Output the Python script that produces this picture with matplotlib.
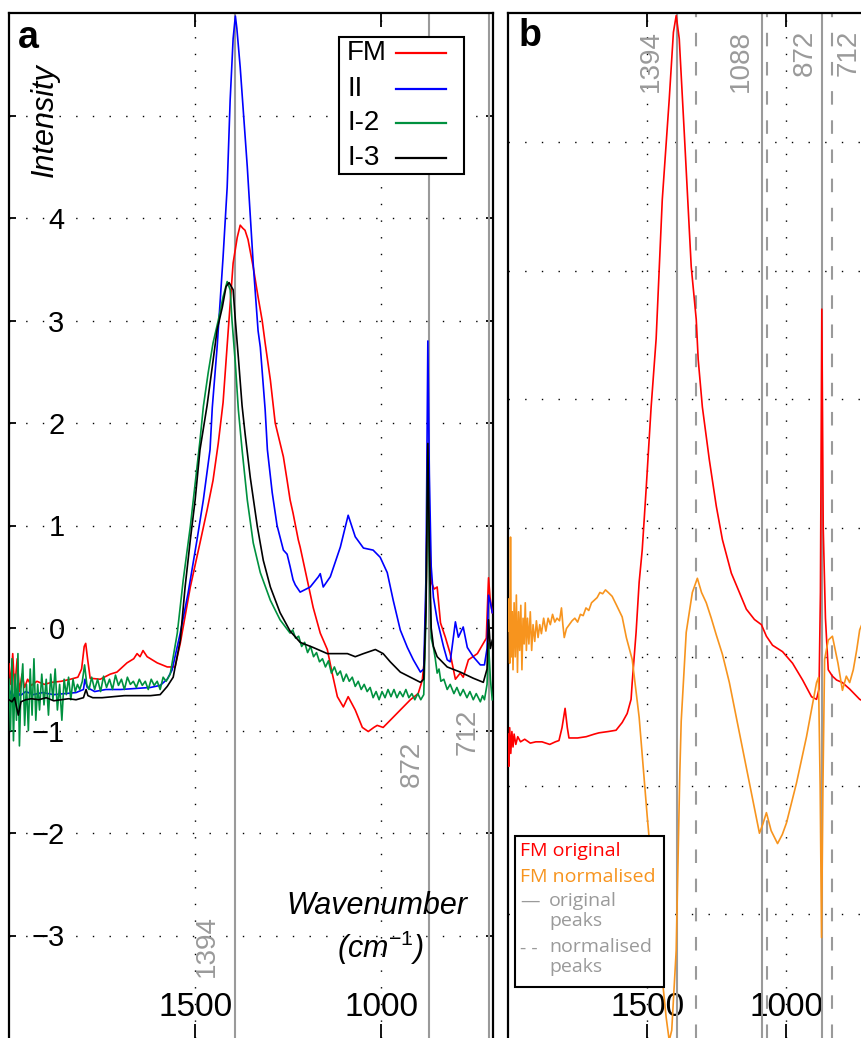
import matplotlib
matplotlib.use('Agg')
import matplotlib.pyplot as plt
from matplotlib.patches import Rectangle
from matplotlib.lines import Line2D

plt.rcParams['font.family'] = 'Liberation Sans'
plt.rcParams['mathtext.fontset'] = 'custom'
plt.rcParams['mathtext.it'] = 'Liberation Sans:italic'
plt.rcParams['mathtext.rm'] = 'Liberation Sans'

GRAY = '#9a9a9a'
GREEN = '#00913f'
ORANGE = '#f7941e'

# ── Panel a spectra: (wavenumber cm-1, intensity) ─────────────────────────────
fm_a = [(2000, -0.35), (1995, -0.55), (1990, -0.25), (1985, -0.6), (1978, -0.3), (1972, -0.62),
        (1965, -0.45), (1958, -0.58), (1950, -0.5), (1940, -0.56), (1925, -0.52), (1905, -0.55),
        (1885, -0.53), (1860, -0.52), (1835, -0.5), (1815, -0.48), (1805, -0.4), (1798, -0.18),
        (1794, -0.15), (1789, -0.3), (1782, -0.49), (1755, -0.5), (1728, -0.45), (1710, -0.43),
        (1683, -0.34), (1665, -0.3), (1656, -0.25), (1648, -0.28), (1640, -0.22), (1629, -0.28),
        (1602, -0.34), (1575, -0.38), (1554, -0.38), (1540, -0.15), (1513, 0.4), (1487, 0.83),
        (1468, 1.15), (1452, 1.44), (1438, 1.8), (1425, 2.2), (1411, 2.91), (1398, 3.56),
        (1387, 3.81), (1379, 3.93), (1372, 3.9), (1366, 3.88), (1358, 3.79), (1344, 3.52),
        (1331, 3.23), (1320, 3.0), (1312, 2.78), (1298, 2.42), (1285, 2.0), (1263, 1.67),
        (1253, 1.44), (1245, 1.25), (1237, 1.12), (1223, 0.86), (1218, 0.79), (1199, 0.47),
        (1183, 0.2), (1164, -0.05), (1145, -0.21), (1132, -0.44), (1118, -0.67), (1102, -0.77),
        (1089, -0.67), (1070, -0.8), (1051, -0.97), (1035, -1.01), (1020, -0.97), (1011, -0.95),
        (995, -0.97), (976, -0.9), (949, -0.8), (922, -0.7), (901, -0.64), (890, -0.51),
        (884, -0.3), (879, 0.5), (875, 1.8), (871, 0.9), (866, 0.45), (858, 0.38), (850, 0.4),
        (841, 0.05), (828, -0.09), (815, -0.25), (801, -0.5), (788, -0.44), (780, -0.48),
        (766, -0.31), (742, -0.25), (726, -0.15), (718, -0.1), (714, 0.3), (712, 0.49),
        (708, 0.3), (702, 0.15)]

ii_a = [(2000, -0.6), (1990, -0.68), (1980, -0.6), (1970, -0.66), (1955, -0.62), (1935, -0.65),
        (1910, -0.63), (1880, -0.65), (1850, -0.64), (1820, -0.63), (1800, -0.6), (1796, -0.5),
        (1790, -0.58), (1770, -0.62), (1740, -0.6), (1700, -0.6), (1660, -0.59), (1620, -0.58),
        (1594, -0.56), (1575, -0.5), (1562, -0.41), (1540, -0.05), (1519, 0.34), (1495, 0.86),
        (1478, 1.25), (1460, 1.74), (1454, 2.15), (1441, 2.74), (1425, 3.62), (1414, 4.3),
        (1406, 5.15), (1398, 5.75), (1392, 5.97), (1388, 5.85), (1379, 5.47), (1360, 4.5),
        (1344, 3.55), (1331, 2.9), (1325, 2.74), (1312, 2.13), (1306, 1.74), (1293, 1.32),
        (1280, 1.0), (1263, 0.76), (1253, 0.72), (1245, 0.6), (1237, 0.47), (1231, 0.42),
        (1218, 0.35), (1191, 0.4), (1169, 0.5), (1164, 0.53), (1156, 0.4), (1137, 0.5),
        (1110, 0.79), (1089, 1.1), (1070, 0.89), (1048, 0.78), (1022, 0.76), (1003, 0.69),
        (984, 0.54), (968, 0.27), (949, -0.02), (930, -0.19), (914, -0.31), (895, -0.43),
        (886, -0.4), (880, 0.5), (875, 2.8), (871, 1.5), (866, 0.6), (860, 0.3), (850, 0.08),
        (833, -0.18), (823, -0.31), (815, -0.33), (801, 0.06), (793, -0.09), (780, 0.01),
        (769, -0.19), (753, -0.28), (734, -0.36), (723, -0.36), (716, -0.2), (712, 0.32),
        (707, 0.25), (702, 0.15)]

i2_a = [(2000, -0.5), (1996, -1.0), (1992, -0.3), (1988, -1.1), (1984, -0.45), (1980, -0.9),
        (1976, -0.25), (1972, -1.15), (1968, -0.6), (1963, -0.35), (1958, -0.95), (1953, -0.55),
        (1948, -1.0), (1943, -0.4), (1938, -0.85), (1933, -0.3), (1928, -0.9), (1923, -0.55),
        (1918, -0.8), (1912, -0.45), (1906, -0.75), (1900, -0.5), (1894, -0.85), (1888, -0.45),
        (1882, -0.7), (1876, -0.4), (1870, -0.8), (1864, -0.55), (1858, -0.9), (1852, -0.5),
        (1846, -0.65), (1840, -0.48), (1834, -0.7), (1828, -0.5), (1822, -0.62), (1816, -0.55),
        (1810, -0.6), (1803, -0.52), (1797, -0.36), (1791, -0.55), (1785, -0.6), (1778, -0.48),
        (1770, -0.6), (1762, -0.5), (1754, -0.62), (1746, -0.47), (1738, -0.58), (1730, -0.5),
        (1722, -0.6), (1714, -0.46), (1706, -0.56), (1698, -0.5), (1690, -0.6), (1682, -0.48),
        (1674, -0.55), (1666, -0.52), (1658, -0.58), (1650, -0.5), (1642, -0.56), (1634, -0.52),
        (1626, -0.6), (1618, -0.5), (1610, -0.56), (1602, -0.52), (1594, -0.6), (1586, -0.48),
        (1578, -0.52), (1567, -0.45), (1548, -0.05), (1532, 0.47), (1513, 0.99), (1500, 1.41),
        (1487, 1.83), (1478, 2.16), (1465, 2.49), (1452, 2.78), (1438, 3.0), (1425, 3.23),
        (1414, 3.38), (1406, 3.3), (1401, 3.0), (1392, 2.58), (1384, 2.13), (1374, 1.74),
        (1360, 1.25), (1344, 0.83), (1325, 0.54), (1298, 0.27), (1272, 0.08), (1245, -0.05),
        (1238, -0.02), (1230, -0.1), (1222, -0.08), (1214, -0.18), (1206, -0.14), (1198, -0.24),
        (1190, -0.18), (1182, -0.28), (1174, -0.24), (1166, -0.33), (1158, -0.3), (1150, -0.38),
        (1142, -0.32), (1134, -0.44), (1126, -0.38), (1118, -0.46), (1110, -0.42), (1102, -0.52),
        (1094, -0.45), (1086, -0.52), (1078, -0.48), (1070, -0.57), (1062, -0.52), (1054, -0.6),
        (1046, -0.55), (1038, -0.62), (1030, -0.58), (1022, -0.68), (1014, -0.62), (1006, -0.7),
        (998, -0.62), (990, -0.68), (982, -0.6), (974, -0.67), (966, -0.6), (958, -0.68),
        (950, -0.62), (942, -0.67), (934, -0.6), (926, -0.68), (918, -0.64), (910, -0.7),
        (902, -0.64), (894, -0.7), (886, -0.65), (880, 0.1), (875, 1.7), (871, 0.6), (866, -0.1),
        (860, -0.19), (855, -0.3), (850, -0.44), (845, -0.4), (840, -0.52), (832, -0.5),
        (823, -0.6), (815, -0.55), (805, -0.64), (797, -0.58), (788, -0.66), (780, -0.6),
        (770, -0.68), (762, -0.62), (753, -0.7), (745, -0.64), (734, -0.72), (728, -0.66),
        (723, -0.7), (716, -0.55), (712, -0.15), (707, -0.5), (702, -0.7)]

i3_a = [(2000, -0.7), (1992, -0.72), (1985, -0.68), (1975, -0.85), (1968, -0.72), (1955, -0.7),
        (1940, -0.69), (1920, -0.7), (1900, -0.68), (1880, -0.71), (1860, -0.7), (1840, -0.69),
        (1820, -0.7), (1800, -0.68), (1793, -0.6), (1788, -0.66), (1775, -0.68), (1750, -0.68),
        (1720, -0.67), (1690, -0.66), (1650, -0.66), (1620, -0.66), (1594, -0.65), (1575, -0.57),
        (1559, -0.48), (1540, -0.12), (1527, 0.4), (1513, 0.86), (1500, 1.25), (1487, 1.74),
        (1468, 2.17), (1454, 2.55), (1441, 2.91), (1427, 3.13), (1417, 3.33), (1409, 3.37),
        (1398, 3.3), (1392, 3.0), (1384, 2.64), (1374, 2.17), (1366, 1.9), (1352, 1.47),
        (1333, 0.99), (1317, 0.66), (1298, 0.4), (1272, 0.15), (1245, -0.03), (1218, -0.14),
        (1183, -0.19), (1145, -0.25), (1091, -0.25), (1070, -0.28), (1048, -0.25), (1016, -0.21),
        (995, -0.25), (976, -0.33), (949, -0.43), (922, -0.48), (895, -0.53), (886, -0.5),
        (880, 0.2), (875, 1.8), (871, 0.8), (866, 0.0), (860, -0.18), (850, -0.28), (823, -0.38),
        (788, -0.43), (753, -0.49), (726, -0.53), (716, -0.4), (712, 0.08), (707, -0.2),
        (702, -0.12)]

# ── Panel b: FM original vs normalised ───────────────────────────────────────
fm_orig_b = [(2000, -0.6), (1997, -0.85), (1994, -0.55), (1990, -0.75), (1986, -0.58), (1982, -0.7),
             (1978, -0.6), (1972, -0.68), (1965, -0.62), (1955, -0.66), (1940, -0.64), (1920, -0.67),
             (1900, -0.66), (1878, -0.66), (1850, -0.68), (1830, -0.66), (1817, -0.65), (1806, -0.55),
             (1795, -0.4), (1787, -0.55), (1781, -0.63), (1750, -0.63), (1719, -0.62), (1690, -0.6),
             (1673, -0.59), (1640, -0.58), (1612, -0.57), (1590, -0.51), (1572, -0.44), (1558, -0.33),
             (1554, -0.2), (1540, 0.19), (1529, 0.58), (1518, 0.83), (1504, 1.3), (1486, 1.94),
             (1468, 2.47), (1446, 3.55), (1421, 4.33), (1406, 4.85), (1396, 4.98), (1385, 4.8),
             (1367, 4.07), (1342, 3.03), (1324, 2.62), (1317, 2.31), (1302, 1.94), (1277, 1.53),
             (1252, 1.17), (1230, 0.91), (1198, 0.65), (1169, 0.5), (1144, 0.37), (1115, 0.29),
             (1090, 0.25), (1072, 0.16), (1050, 0.09), (1014, 0.04), (978, -0.05), (942, -0.18),
             (910, -0.31), (892, -0.33), (883, -0.25), (878, 0.5), (873, 2.7), (868, 1.0),
             (860, 0.3), (850, -0.1), (835, -0.15), (820, -0.18), (799, -0.2), (773, -0.25),
             (737, -0.33), (710, -0.36), (700, -0.38)]

fm_norm_b = [(2000, 0.2), (1997, 0.45), (1994, -0.05), (1991, 0.93), (1988, 0.0), (1985, 0.35),
             (1982, -0.1), (1978, 0.42), (1974, 0.0), (1970, 0.48), (1966, -0.12), (1962, 0.35),
             (1958, 0.05), (1954, 0.4), (1950, -0.1), (1946, 0.3), (1942, 0.1), (1938, 0.42),
             (1934, 0.05), (1930, 0.3), (1925, 0.1), (1920, 0.35), (1915, 0.05), (1910, 0.25),
             (1904, 0.12), (1898, 0.28), (1892, 0.15), (1886, 0.25), (1880, 0.18), (1872, 0.3),
             (1864, 0.2), (1856, 0.3), (1848, 0.25), (1840, 0.33), (1832, 0.27), (1824, 0.3),
             (1815, 0.28), (1808, 0.38), (1803, 0.25), (1798, 0.15), (1790, 0.22), (1780, 0.25),
             (1770, 0.28), (1760, 0.3), (1750, 0.27), (1740, 0.33), (1730, 0.32), (1720, 0.38),
             (1710, 0.36), (1700, 0.42), (1690, 0.44), (1680, 0.46), (1670, 0.5), (1660, 0.49),
             (1650, 0.52), (1640, 0.5), (1626, 0.47), (1610, 0.4), (1590, 0.31), (1575, 0.15),
             (1554, -0.02), (1529, -0.47), (1500, -1.24), (1468, -2.02), (1432, -2.8),
             (1421, -2.98), (1412, -2.9), (1396, -2.28), (1383, -0.9), (1378, -0.5), (1360, 0.19),
             (1338, 0.5), (1320, 0.61), (1305, 0.5), (1288, 0.42), (1270, 0.3), (1252, 0.17),
             (1230, 0.02), (1205, -0.2), (1169, -0.59), (1133, -0.98), (1097, -1.37), (1085, -1.3),
             (1072, -1.21), (1055, -1.35), (1032, -1.45), (1015, -1.38), (1000, -1.29), (964, -0.98),
             (928, -0.62), (892, -0.2), (885, -0.16), (879, -1.0), (874, -2.18), (869, -1.0),
             (863, -0.02), (850, 0.13), (835, 0.16), (815, -0.05), (799, -0.26), (785, -0.15),
             (773, -0.2), (760, -0.1), (748, 0.05), (737, 0.21), (720, 0.3), (700, 0.32)]

peaks_a = [1394, 872, 712]
peaks_b_orig = [1394, 1088, 872, 712]
peaks_b_norm = [1324, 1070, 835, 700]

W, H = 861, 1038
fig = plt.figure(figsize=(W / 100, H / 100), dpi=100)
ax_a = fig.add_axes([9 / W, 0, 484 / W, 1025 / H])
ax_b = fig.add_axes([508 / W, 0, 362 / W, 1025 / H])

grid_kw = dict(color='k', linestyle=(0, (1, 11)), linewidth=1.0)

# ── Panel a ───────────────────────────────────────────────────────────────────
for p in peaks_a:
    ax_a.axvline(p, color=GRAY, lw=1.5, zorder=1)

series_a = [(fm_a, 'red', 'FM'), (ii_a, 'blue', 'II'), (i2_a, GREEN, 'I-2'), (i3_a, 'black', 'I-3')]
for series, col, name in series_a:
    x, y = zip(*series)
    ax_a.plot(x, y, color=col, lw=1.2, label=name, zorder=3)

ax_a.set_xlim(2000, 700)
ax_a.set_ylim(-4, 6)
ax_a.set_xticks([1500, 1000])
ax_a.set_yticks(range(-3, 6))
ax_a.set_yticklabels(['\u22123', '\u22122', '\u22121', '0', '1', '2', '3', '4', ''])
ax_a.grid(True, **grid_kw)
ax_a.set_axisbelow(True)
ax_a.tick_params(direction='in', top=True, right=True, width=1.3)
ax_a.tick_params(axis='x', length=10, labelsize=24, pad=-33)
ax_a.tick_params(axis='y', length=5, labelsize=21, pad=-40)

ax_a.text(1468, -3.1, '1394', rotation=90, color=GRAY, fontsize=20, ha='center', va='center')
ax_a.text(917, -1.33, '872', rotation=90, color=GRAY, fontsize=20, ha='center', va='center')
ax_a.text(769, -1.01, '712', rotation=90, color=GRAY, fontsize=20, ha='center', va='center')

# legend a: text left, sample line right
fig.add_artist(Rectangle((339 / W, 1 - 174 / H), 125 / W, 137 / H, transform=fig.transFigure,
                         facecolor='white', edgecolor='k', lw=1.5, zorder=5))
for (series, col, name), yy in zip(series_a, [53, 89, 123, 158]):
    fig.text(347 / W, 1 - yy / H, name, fontsize=20, ha='left', va='center', zorder=6)
    fig.add_artist(Line2D([396 / W, 446 / W], [1 - yy / H] * 2, transform=fig.transFigure,
                          color=col, lw=1.6, zorder=6))

# ── Panel b ───────────────────────────────────────────────────────────────────
for p in peaks_b_orig:
    ax_b.axvline(p, color=GRAY, lw=1.5, zorder=1)
for p in peaks_b_norm:
    ax_b.axvline(p, color=GRAY, lw=1.5, linestyle=(0, (6.5, 7.5)), zorder=1)

x, y = zip(*fm_orig_b)
ax_b.plot(x, y, color='red', lw=1.2, zorder=3)
x, y = zip(*fm_norm_b)
ax_b.plot(x, y, color=ORANGE, lw=1.2, zorder=3)

ax_b.set_xlim(2000, 700)
ax_b.set_ylim(-2.96, 5.0)
ax_b.set_xticks([1500, 1000])
ax_b.set_yticks(range(-2, 5))
ax_b.set_yticklabels([])
ax_b.grid(True, **grid_kw)
ax_b.set_axisbelow(True)
ax_b.tick_params(direction='in', top=True, right=True, width=1.3)
ax_b.tick_params(axis='x', length=10, labelsize=24, pad=-33)
ax_b.tick_params(axis='y', length=0)

for lab, xx in [('1394', 1486), ('1088', 1165), ('872', 935), ('712', 777)]:
    ax_b.text(xx, 4.87, lab, rotation=90, color=GRAY, fontsize=20, ha='center', va='top')

for ax in (ax_a, ax_b):
    ax.spines['bottom'].set_visible(False)
    for s in ('top', 'left', 'right'):
        ax.spines[s].set_linewidth(1.6)

# ── Figure texts ──────────────────────────────────────────────────────────────
fig.text(28 / W, 1 - 38 / H, 'a', fontsize=27, fontweight='bold', ha='center', va='center')
fig.text(530 / W, 1 - 36 / H, 'b', fontsize=27, fontweight='bold', ha='center', va='center')
fig.text(45 / W, 1 - 120 / H, 'Intensity', fontsize=22, style='italic', rotation=90,
         ha='center', va='center')
fig.text(377 / W, 1 - 906 / H, 'Wavenumber', fontsize=22, style='italic', ha='center', va='center')
fig.text(380 / W, 1 - 948 / H, r'(cm$^{-1}$)', fontsize=22, style='italic', ha='center', va='center')

# legend b
fig.add_artist(Rectangle((515 / W, 1 - 987 / H), 149 / W, 151 / H, transform=fig.transFigure,
                         facecolor='white', edgecolor='k', lw=1.5, zorder=5))
lkw = dict(fontsize=14, family='Open Sans', va='center', ha='left', zorder=6)
fig.text(520 / W, 1 - 851 / H, 'FM original', color='red', **lkw)
fig.text(520 / W, 1 - 877 / H, 'FM normalised', color=ORANGE, **lkw)
fig.text(520 / W, 1 - 902 / H, '\u2014', color=GRAY, **lkw)
fig.text(549 / W, 1 - 901 / H, 'original', color=GRAY, **lkw)
fig.text(549 / W, 1 - 921 / H, 'peaks', color=GRAY, **lkw)
fig.text(520 / W, 1 - 949 / H, '- -', color=GRAY, **lkw)
fig.text(549 / W, 1 - 947 / H, 'normalised', color=GRAY, **lkw)
fig.text(549 / W, 1 - 967 / H, 'peaks', color=GRAY, **lkw)

plt.savefig('out.png', dpi=100)
